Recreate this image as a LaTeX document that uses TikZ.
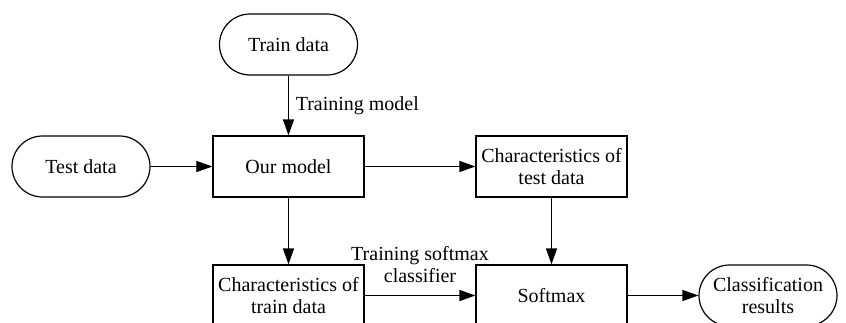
\documentclass[tikz,border=0pt]{standalone}
\usepackage{fontspec}
\setmainfont{Liberation Serif}
\usetikzlibrary{positioning,arrows.meta}

\begin{document}
\begin{tikzpicture}[>={Triangle[length=8pt,width=5.5pt]},line width=0.6pt,
        node distance=2cm,on grid,auto,
        font=\fontsize{10}{11}\selectfont,
        block/.style={draw,rectangle,minimum width=75.5pt,minimum height=30.5pt,align=center,inner sep=1pt},
        term/.style={draw,rectangle,rounded corners=15.25pt,minimum width=69pt,minimum height=30.5pt,align=center,inner sep=1pt}]
        \useasboundingbox (-144.25pt,-77.75pt) rectangle (278.75pt,83.25pt);
        \node[block] (model) at (0,0) {Our model};
        \node[term] (train) [above=61pt of model] {Train data};
        \node[term] (test) [left=103.75pt of model] {Test data};
        \node[block] (chartest) [right=131.5pt of model] {Characteristics of\\test data};
        \node[block] (chartrain) [below=64.5pt of model] {Characteristics of\\train data};
        \node[block] (softmax) [below=64.5pt of chartest] {Softmax};
        \node[term] (result) [right=108.25pt of softmax] {Classification\\results};
             \path[->]
        (train) edge node {Training model} (model)
        (test) edge (model)
        (model) edge (chartest)
        (model) edge (chartrain)
        (chartest) edge (softmax)
        (chartrain) edge node[align=center,inner sep=6pt] {Training softmax\\classifier} (softmax)
        (softmax) edge (result);
    \end{tikzpicture}
\end{document}
